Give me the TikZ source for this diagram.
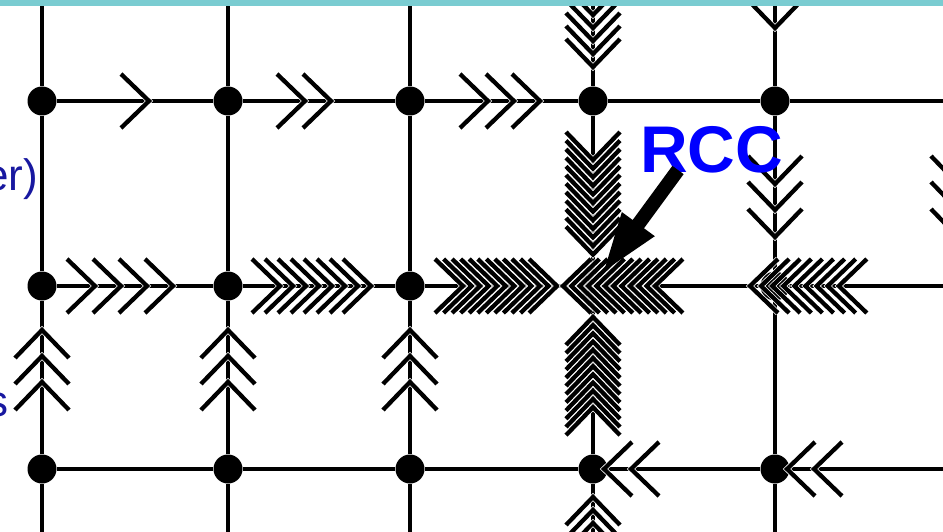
\documentclass[tikz,border=0pt]{standalone}
\usepackage{fontspec}
\setmainfont{Liberation Sans}
\usetikzlibrary{arrows.meta}
\definecolor{barteal}{RGB}{122,204,209}
\definecolor{noteblue}{RGB}{24,24,160}
\definecolor{rccblue}{RGB}{0,0,255}
\tikzset{
  gridline/.style={line width=3.6pt, black},
  dot/.style={circle, fill=black, minimum size=29pt, inner sep=0pt},
  chevblack/.style={line width=4.3pt, black, line join=miter, line cap=butt},
  chevwhite/.style={line width=5.8pt, white, line join=miter, line cap=butt},
  chevR/.pic={\draw[chevwhite] (-28,-27)--(0,0)--(-28,27); \draw[chevblack] (-28,-27)--(0,0)--(-28,27);},
  chevL/.pic={\draw[chevwhite] (28,-27)--(0,0)--(28,27); \draw[chevblack] (28,-27)--(0,0)--(28,27);},
  chevD/.pic={\draw[chevwhite] (-27,-28)--(0,0)--(27,-28); \draw[chevblack] (-27,-28)--(0,0)--(27,-28);},
  chevU/.pic={\draw[chevwhite] (-27,28)--(0,0)--(27,28); \draw[chevblack] (-27,28)--(0,0)--(27,28);},
  bigarrow/.style={line width=14pt, black, -{Triangle[length=62pt 0 0, width=36pt 0 0]}},
  notelabel/.style={anchor=base east, inner sep=0pt, text=noteblue, font=\fontsize{44pt}{44pt}\selectfont},
  rcclabel/.style={anchor=base west, inner sep=0pt, text=rccblue, font=\fontsize{66pt}{66pt}\selectfont\bfseries}
}
\begin{document}
\begin{tikzpicture}[x=1pt,y=-1pt]
\useasboundingbox (0,0) rectangle (943,532);
\clip (0,0) rectangle (943,532);
\fill[white] (0,0) rectangle (943,532);
% labels (partly cut off at the left edge, as in the reference)
\node[notelabel] (lblA) at (38,190) {er)};
\node[notelabel] (lblB) at (9,416) {s};
% grid nodes
\foreach [count=\i] \x in {42,228,410,593,775}{
  \foreach [count=\j] \y in {101,286,469}{
    \node[dot] (n\i\j) at (\x,\y) {};
  }
  \coordinate (t\i) at (\x,0);
  \coordinate (b\i) at (\x,532);
}
\foreach [count=\j] \y in {101,286,469}{ \coordinate (r\j) at (943,\y); }
% grid lines
\foreach \i in {1,...,5}{ \draw[gridline] (t\i) -- (n\i1) -- (n\i2) -- (n\i3) -- (b\i); }
\foreach \j in {1,2,3}{ \draw[gridline] (n1\j) -- (n2\j) -- (n3\j) -- (n4\j) -- (n5\j) -- (r\j); }
% top row
\pic at (149,101) {chevR};
\foreach \t in {305,331} \pic at (\t,101) {chevR};
\foreach \t in {488,514,540} \pic at (\t,101) {chevR};
% middle row
\foreach \t in {95,121,147,173} \pic at (\t,286) {chevR};
\foreach \k in {0,...,7} \pic at ({280+13*\k},286) {chevR};
\foreach \k in {0,...,11} \pic at ({463+8.55*\k},286) {chevR};
\foreach \k in {0,...,11} \pic at ({563+8.36*\k},286) {chevL};
\foreach \k in {0,...,8} \pic at ({750+11.1*\k},286) {chevL};
% bottom row
\foreach \t in {604,631} \pic at (\t,469) {chevL};
\foreach \t in {787,814} \pic at (\t,469) {chevL};
% verticals
\foreach \x in {42,228,410} \foreach \a in {330,356,382} \pic at (\x,\a) {chevU};
\foreach \k in {0,...,5} \pic at (593,{67-13*\k}) {chevD};
\foreach \k in {0,...,11} \pic at (593,{160+8.6*\k}) {chevD};
\foreach \k in {0,...,11} \pic at (593,{317+8.2*\k}) {chevU};
\foreach \k in {0,...,3} \pic at (593,{497+13*\k}) {chevU};
\pic at (775,28) {chevD};
\foreach \t in {184,210,237} \pic at (775,\t) {chevD};
\foreach \t in {184,210,237} \pic at (958,\t) {chevD};
% RCC label and pointer
\node[rcclabel] (rcc) at (640,172) {RCC};
\coordinate (rcctail) at (678,170);
\draw[bigarrow] (rcctail) -- (n42);
% top bar
\fill[barteal] (0,0) rectangle (943,6);
\end{tikzpicture}
\end{document}
